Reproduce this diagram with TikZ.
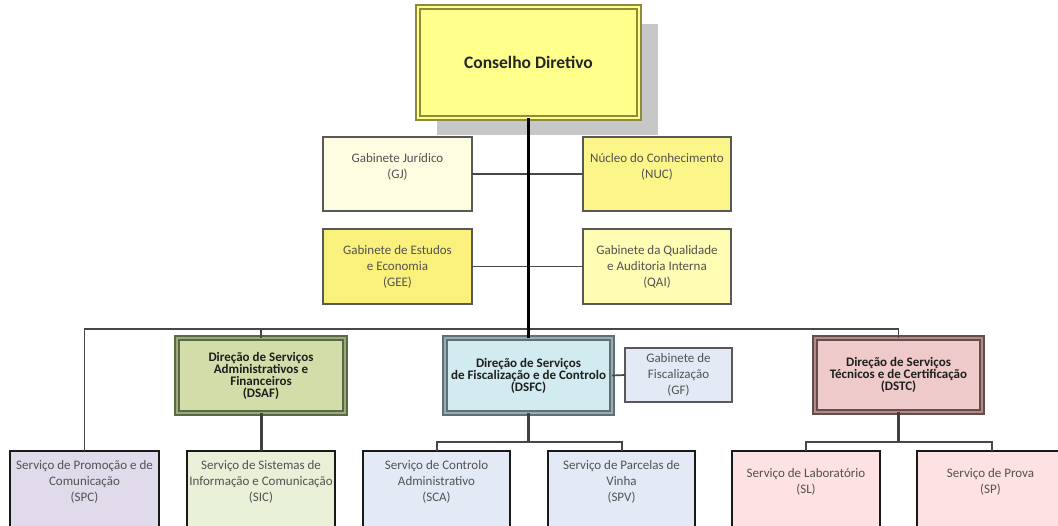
\documentclass[tikz,border=0pt]{standalone}
\usepackage{fontspec}
\setmainfont{Carlito}
\usetikzlibrary{shadows}
\definecolor{cdfill}{HTML}{FFFF8C}
\definecolor{cdline}{HTML}{8C8C3C}
\definecolor{gjfill}{HTML}{FEFDE2}
\definecolor{nucfill}{HTML}{FCF68A}
\definecolor{geefill}{HTML}{F9F17C}
\definecolor{qaifill}{HTML}{FFFCB4}
\definecolor{dsaffill}{HTML}{D2DDAA}
\definecolor{dsafline}{HTML}{5A6944}
\definecolor{spcfill}{HTML}{E1DAEA}
\definecolor{sicfill}{HTML}{E9F0D8}
\definecolor{dsfcfill}{HTML}{D2EBF0}
\definecolor{dsfcline}{HTML}{5F6F75}
\definecolor{bluefill}{HTML}{E4EAF5}
\definecolor{dstcfill}{HTML}{EECACA}
\definecolor{dstcline}{HTML}{684C4C}
\definecolor{pinkfill}{HTML}{FDE1E3}
\begin{document}
\begin{tikzpicture}[x=1pt,y=-1pt,
  box/.style={rectangle, inner sep=0pt, outer sep=0pt},
  staff/.style={box, draw=black!65, line width=1.7pt},
  dirbox/.style={box, line width=2pt, double distance=2.4pt},
  unit/.style={box, draw=black!90, line width=2.8pt},
  txt/.style={align=center, font=\fontsize{13}{16}\selectfont, text=black!68, inner sep=0pt},
  btxt/.style={align=center, font=\fontsize{13}{12}\selectfont\bfseries, text=black!88, inner sep=0pt},
  mainline/.style={line width=2.6pt, black},
  thin/.style={line width=1.7pt, black!72},
  down/.style={line width=3pt, black!75},
  bracket/.style={line width=2pt, black!72}
]
\useasboundingbox (0,0) rectangle (1058,526);
\fill[white] (0,0) rectangle (1058,526);
\clip (0,0) rectangle (1058,526);

% coordinates for buses
\coordinate (busy) at (0,329);
\coordinate (sfy) at (0,442);

% top
\node[box, minimum width=221pt, minimum height=111pt, fill=cdfill, draw=cdline, double=cdfill,
      line width=1.5pt, double distance=2.5pt,
      general shadow={fill=black!22, shadow xshift=19pt, shadow yshift=-17pt},
      font=\fontsize{17.5}{20}\selectfont\bfseries, text=black!85] (cd) at (528.5,62.5) {Conselho Diretivo};

% staff boxes
\node[staff, fill=gjfill, minimum width=149pt, minimum height=74pt] (gj) at (397.5,174) {};
\node[txt] (gjt) at (397.5,167) {Gabinete Jurídico\\(GJ)};
\node[staff, fill=nucfill, minimum width=148pt, minimum height=74pt] (nuc) at (657,174) {};
\node[txt] (nuct) at (657,167) {Núcleo do Conhecimento\\(NUC)};
\node[staff, fill=geefill, minimum width=149pt, minimum height=75pt, txt] (gee) at (397.5,266.5) {Gabinete de Estudos\\e Economia\\(GEE)};
\node[staff, fill=qaifill, minimum width=148pt, minimum height=75pt, txt] (qai) at (657,266.5) {Gabinete da Qualidade\\e Auditoria Interna\\(QAI)};

% directorates
\node[dirbox, fill=dsaffill, draw=dsafline, double=dsaffill!55!dsafline, minimum width=168pt, minimum height=75pt, btxt] (dsaf) at (261,375.5) {Direção de Serviços\\Administrativos e\\Financeiros\\(DSAF)};
\node[dirbox, fill=dsfcfill, draw=dsfcline, double=dsfcfill!50!dsfcline, minimum width=167pt, minimum height=75pt, btxt] (dsfc) at (528.5,375.5) {Direção de Serviços\\de Fiscalização e de Controlo\\(DSFC)};
\node[staff, fill=bluefill, minimum width=107pt, minimum height=54pt, txt] (gf) at (678.5,375) {Gabinete de\\Fiscalização\\(GF)};
\node[dirbox, fill=dstcfill, draw=dstcline, double=dstcfill!50!dstcline, minimum width=167pt, minimum height=74pt, btxt] (dstc) at (898.5,375) {Direção de Serviços\\Técnicos e de Certificação\\(DSTC)};

% units
\node[unit, fill=spcfill, minimum width=149pt, minimum height=84pt] (spc) at (84.5,493) {};
\node[txt] (spct) at (84.5,482) {Serviço de Promoção e de\\Comunicação\\(SPC)};
\node[unit, fill=sicfill, minimum width=148pt, minimum height=84pt] (sic) at (261,493) {};
\node[txt] (sict) at (261,482) {Serviço de Sistemas de\\Informação e Comunicação\\(SIC)};
\node[unit, fill=bluefill, minimum width=147pt, minimum height=84pt] (sca) at (436.5,493) {};
\node[txt] (scat) at (436.5,482) {Serviço de Controlo\\Administrativo\\(SCA)};
\node[unit, fill=bluefill, minimum width=147pt, minimum height=84pt] (spv) at (621.5,493) {};
\node[txt] (spvt) at (621.5,482) {Serviço de Parcelas de\\Vinha\\(SPV)};
\node[unit, fill=pinkfill, minimum width=148pt, minimum height=84pt] (sl) at (806,493) {};
\node[txt] (slt) at (806,482) {Serviço de Laboratório\\(SL)};
\node[unit, fill=pinkfill, minimum width=147pt, minimum height=84pt] (sp) at (990.5,493) {};
\node[txt] (spt) at (990.5,482) {Serviço de Prova\\(SP)};

% connectors
\draw[thin] (gj.east) -- (nuc.west);
\draw[thin] (gee.east) -- (qai.west);
\draw[thin] (spc.north) -- (spc.north |- busy) -- (dstc.north |- busy) -- (dstc.north);
\draw[thin] (dsaf.north |- busy) -- (dsaf.north);
\draw[mainline] (cd.south) -- (dsfc.north);
\draw[thin] (dsfc.east) -- (gf.west);
\draw[down] (dsaf.south) -- (sic.north);
\draw[down] (dsfc.south) -- (dsfc.south |- sfy);
\draw[bracket] (sca.north) -- (sca.north |- sfy) -- (spv.north |- sfy) -- (spv.north);
\draw[down] (dstc.south) -- (dstc.south |- sfy);
\draw[bracket] (sl.north) -- (sl.north |- sfy) -- ([xshift=1.5pt]sp.north |- sfy) -- ([xshift=1.5pt]sp.north);
\end{tikzpicture}
\end{document}
